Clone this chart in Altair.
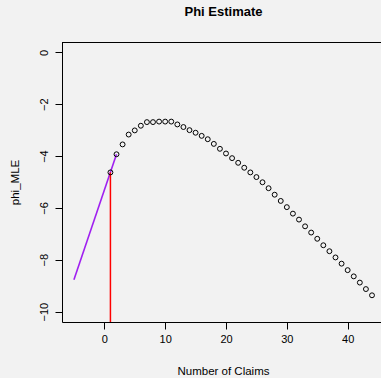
import altair as alt
import pandas as pd

# Profile estimate of phi by number of claims
claims = list(range(1, 45))
phi_mle = [-4.63, -3.93, -3.55, -3.17, -3.01, -2.83, -2.69, -2.69, -2.67, -2.67,
           -2.67, -2.78, -2.88, -3.00, -3.10, -3.22, -3.35, -3.53, -3.72, -3.90,
           -4.08, -4.26, -4.45, -4.63, -4.81, -5.01, -5.24, -5.49, -5.73, -5.97,
           -6.22, -6.45, -6.71, -6.95, -7.19, -7.44, -7.67, -7.91, -8.15, -8.40,
           -8.64, -8.88, -9.13, -9.37]

# Tangent segment through the first estimate
tangent_x = [-5, 2]
tangent_y = [-8.77, -3.93]

# Vertical marker at one claim
marker_x = [1]
marker_top = [-4.63]
marker_bottom = [-10.4]

x_ticks = [0, 10, 20, 30, 40]
y_ticks = [0, -2, -4, -6, -8, -10]

X_DOMAIN = [-6.96, 45.48]
Y_DOMAIN = [-10.4, 0.4]
W, H = 319, 280
FONT = "Liberation Sans"

pts = pd.DataFrame({"claims": claims, "phi": phi_mle})
tan = pd.DataFrame({"claims": tangent_x, "phi": tangent_y})
mark = pd.DataFrame({"claims": marker_x, "top": marker_top, "bottom": marker_bottom})

xs = alt.Scale(domain=X_DOMAIN, nice=False, zero=False)
ys = alt.Scale(domain=Y_DOMAIN, nice=False, zero=False)

x_axis = alt.Axis(values=x_ticks, title="Number of Claims", grid=False,
                  domainColor="black", tickColor="black", tickSize=7,
                  labelFontSize=11, labelColor="black", labelFont=FONT,
                  labelPadding=4, titleFont=FONT, titleFontSize=11.5,
                  titleFontWeight="normal", titleColor="black",
                  titleX=161, titleY=49, titleBaseline="middle")
y_axis = alt.Axis(values=y_ticks, title="phi_MLE", grid=False,
                  domainColor="black", tickColor="black", tickSize=7,
                  labelAngle=270, labelAlign="center", labelBaseline="bottom",
                  labelFontSize=11, labelColor="black", labelFont=FONT,
                  labelPadding=6, titleFont=FONT, titleFontSize=11.5,
                  titleFontWeight="normal", titleColor="black",
                  titleAngle=270, titleX=-47, titleY=140,
                  titleAlign="center", titleBaseline="middle")

points = alt.Chart(pts).mark_point(shape="circle", filled=False, color="black",
                                   size=24, strokeWidth=1, opacity=1).encode(
    x=alt.X("claims:Q", scale=xs, axis=x_axis),
    y=alt.Y("phi:Q", scale=ys, axis=y_axis),
)

tangent = alt.Chart(tan).mark_line(color="#A020F0", strokeWidth=1.6).encode(
    x=alt.X("claims:Q", scale=xs),
    y=alt.Y("phi:Q", scale=ys),
)

marker = alt.Chart(mark).mark_rule(color="#FF0000", strokeWidth=1.5).encode(
    x=alt.X("claims:Q", scale=xs),
    y=alt.Y("top:Q", scale=ys),
    y2="bottom:Q",
)

# Top edge of the plot frame (single segment, pixel-aligned)
top_edge = alt.Chart(mark).mark_rule(color="black", strokeWidth=1).encode(
    x=alt.value(0), x2=alt.value(W), y=alt.value(0.5)
)

chart = alt.layer(tangent, marker, points, top_edge).properties(
    width=W, height=H,
    title=alt.TitleParams("Phi Estimate", font=FONT, fontSize=13,
                          fontWeight="bold", color="black", anchor="middle",
                          offset=23, dx=2),
    background="#f2f2f2",
    padding={"left": 62, "top": 42, "right": 0, "bottom": 56},
    autosize=alt.AutoSizeParams(type="none"),
).configure_view(stroke=None)

chart.save("out.html", embed_options={"renderer": "svg", "actions": False})
